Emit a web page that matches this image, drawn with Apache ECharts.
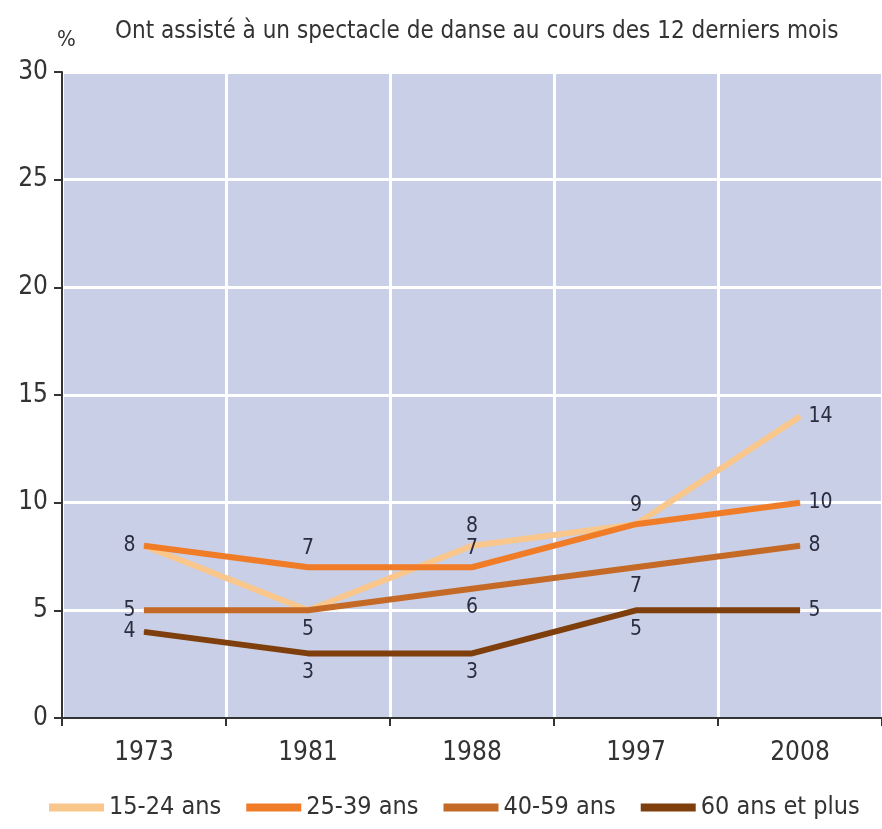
<!DOCTYPE html>
<html style="height: 100%">
<head>
	<meta charset="UTF-8">
	<title></title>
	<script src="https://cdn.jsdelivr.net/npm/echarts@6/dist/echarts.min.js"></script>
</head>
<body style="height: 100%; margin: 0; background: #fff">
	<div id="container" style="width: 882px; height: 829px;"></div>
<script type="text/javascript">
var years = ['1973', '1981', '1988', '1997', '2008'];
var seriesNames = ['15-24 ans', '25-39 ans', '40-59 ans', '60 ans et plus'];
var v1524 = [8, 5, 8, 9, 14];
var v2539 = [8, 7, 7, 9, 10];
var v4059 = [5, 5, 6, 7, 8];
var v60 = [4, 3, 3, 5, 5];
// where each value label goes (null = hidden, because another series already shows it)
var pos1524 = [null, null, 'top', null, 'right'];
var pos2539 = ['left', 'top', 'top', 'top', 'right'];
var pos4059 = ['left', 'bottom', 'bottom', 'bottom', 'right'];
var pos60 = ['left', 'bottom', 'bottom', 'bottom', 'right'];

var font = '"Liberation Sans Narrow", "DejaVu Sans Condensed", sans-serif';
var colors = ['#f9c68c', '#f07c28', '#c46a26', '#7e3f0c'];

function build(values, positions) {
	return values.map(function (v, i) {
		var p = positions[i];
		return {
			value: v,
			label: p ? { show: true, position: p, distance: 8 } : { show: false }
		};
	});
}

var dom = document.getElementById('container');
var myChart = echarts.init(dom);
var lineSets = [[v1524, pos1524], [v2539, pos2539], [v4059, pos4059], [v60, pos60]];

var option = {
	color: colors,
	title: [{
		text: '%',
		left: 52, top: 24,
		textStyle: { fontFamily: font, fontWeight: 'normal', fontSize: 22, color: '#333' }
	}, {
		text: 'Ont assisté à un spectacle de danse au cours des 12 derniers mois',
		left: 110, top: 15,
		textStyle: { fontFamily: font, fontWeight: 'normal', fontSize: 24, color: '#333' }
	}],
	legend: {
		data: seriesNames,
		bottom: 4,
		left: 44,
		itemWidth: 55,
		itemHeight: 8,
		itemGap: 25,
		icon: 'rect',
		textStyle: { fontFamily: font, fontSize: 25, color: '#333' }
	},
	grid: { left: 62, right: 0, top: 72, bottom: 111, show: true, backgroundColor: '#c9cfe6', borderWidth: 0 },
	xAxis: {
		type: 'category',
		data: years,
		boundaryGap: true,
		axisLine: { lineStyle: { color: '#333', width: 2 } },
		axisTick: { show: true, length: 8, lineStyle: { color: '#333', width: 2 } },
		splitLine: { show: true, lineStyle: { color: '#ffffff', width: 3 } },
		axisLabel: { fontFamily: font, fontSize: 26, color: '#333', margin: 22 }
	},
	yAxis: {
		type: 'value',
		min: 0, max: 30, interval: 5,
		axisLine: { show: true, lineStyle: { color: '#333', width: 2 } },
		axisTick: { show: true, length: 8, lineStyle: { color: '#333', width: 2 } },
		splitLine: { show: true, lineStyle: { color: '#ffffff', width: 3 } },
		axisLabel: { fontFamily: font, fontSize: 26, color: '#333', margin: 14 }
	},
	series: lineSets.map(function (s, k) {
		return {
			name: seriesNames[k],
			type: 'line',
			data: build(s[0], s[1]),
			symbol: 'circle',
			symbolSize: 1,
			showSymbol: true,
			z: 2 + k,
			lineStyle: { width: 6 },
			label: { fontFamily: font, fontSize: 21, color: '#2a2c40' }
		};
	})
};

myChart.setOption(option, true);
</script>
</body>
</html>
